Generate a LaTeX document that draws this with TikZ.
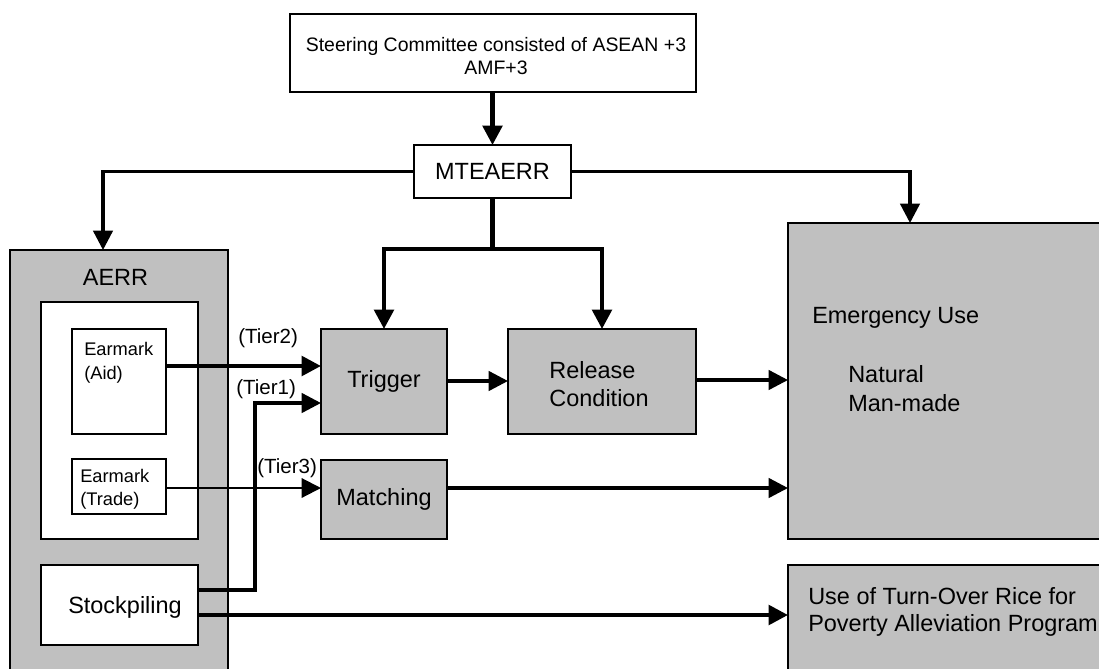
\documentclass[tikz,border=0pt]{standalone}
\usepackage{fontspec}
\setmainfont{Liberation Sans}
\usetikzlibrary{arrows.meta}

\definecolor{boxgray}{HTML}{C0C0C0}

\tikzset{
  box/.style={draw=black, line width=2.2pt, fill=white, inner sep=0pt, outer sep=0pt},
  graybox/.style={box, fill=boxgray},
  big/.style={font=\fontsize{17.6pt}{21.5pt}\selectfont},
  small/.style={font=\fontsize{13.7pt}{18pt}\selectfont},
  head/.style={font=\fontsize{14.6pt}{17pt}\selectfont},
  tier/.style={font=\fontsize{15.4pt}{18pt}\selectfont, inner sep=0pt, anchor=base west},
  lbl/.style={inner sep=0pt, anchor=base west},
  tip/.style={-{Triangle[length=14.5pt, width=14.5pt]}},
  arrT/.style={tip, line width=3.2pt},
  arrM/.style={tip, line width=2.5pt},
  arrS/.style={tip, line width=1.6pt},
  lineT/.style={line width=3.2pt},
}

\begin{document}
\begin{tikzpicture}[x=0.75pt, y=-0.75pt]
\path[use as bounding box, fill=white] (0,0) rectangle (1099,668);
\clip (0,0) rectangle (1099,668);

% ---- boxes (sizes in pt = px * 0.75) ----
\node[box, minimum width=304.5pt, minimum height=58.5pt] (steer) at (493,53) {};
\node[head, align=center, inner sep=0pt] at (496,56)
  {Steering Committee consisted of ASEAN +3\\AMF+3};

\node[box, minimum width=117.75pt, minimum height=39.75pt, big] (mte) at (492.5,171.5) {MTEAERR};

\node[graybox, minimum width=163.5pt, minimum height=337.5pt] (aerr) at (119,475) {};
\node[big, inner sep=0pt] at (115.5,277) {AERR};
\node[box, minimum width=117.75pt, minimum height=177.75pt] (ear) at (119.5,420.5) {};
\node[box, minimum width=70.5pt, minimum height=78.75pt] (aid) at (119,381.5) {};
\node[small, lbl] at (84,355) {Earmark};
\node[small, lbl] at (84,379) {(Aid)};
\node[box, minimum width=70.5pt, minimum height=41.25pt] (trade) at (119,486.5) {};
\node[small, lbl] at (80,482) {Earmark};
\node[small, lbl] at (80,505) {(Trade)};
\node[box, minimum width=117.75pt, minimum height=60pt] (stock) at (119.5,605) {};
\node[big, lbl] at (68,613) {Stockpiling};

\node[graybox, minimum width=94.5pt, minimum height=78.75pt, big] (trig) at (384,381.5) {Trigger};
\node[graybox, minimum width=141pt, minimum height=78.75pt] (rel) at (602,381.5) {};
\node[big, align=left, inner sep=0pt] at (599,384) {Release\\Condition};
\node[graybox, minimum width=94.5pt, minimum height=59.25pt, big] (match) at (384,499.5) {Matching};

\node[graybox, minimum width=234.75pt, minimum height=237pt] (emerg) at (944.5,381) {};
\node[big, lbl] at (812,323) {Emergency Use};
\node[big, lbl] at (848,382) {Natural};
\node[big, lbl] at (848,411) {Man-made};

\node[graybox, minimum width=234.75pt, minimum height=101.25pt] (turn) at (944.5,632.5) {};
\node[big, lbl] at (808,604) {Use of Turn-Over Rice for};
\node[big, lbl] at (808,631) {Poverty Alleviation Program};

% ---- connectors from the committee downwards ----
\draw[arrT] (mte.north |- steer.south) -- (mte.north);
\draw[arrM] (mte.west) -| (103,0 |- aerr.north);
\draw[arrM] (mte.east) -| (910,0 |- emerg.north);
\coordinate (split) at (mte.south |- 0,249);
\draw[lineT] (mte.south) -- (split);
\draw[arrT] (split) -| (trig.north);
\draw[arrT] (split) -| (rel.north);

% ---- tiers into trigger and matching ----
\draw[arrT] (aid.east |- 0,366) -- (trig.west |- 0,366);
\coordinate (bendA) at (255,590);
\coordinate (bendB) at (255,403);
\draw[arrM] (stock.east |- bendA) -- (bendA) -- (bendB) -- (trig.west |- bendB);
\draw[arrS] (trade.east |- 0,488) -- (match.west |- 0,488);
\node[tier] at (238,343) {(Tier2)};
\node[tier] at (236,394) {(Tier1)};
\node[tier] at (257,473) {(Tier3)};

% ---- flows to the uses ----
\draw[arrM] (trig.east |- 0,381) -- (rel.west |- 0,381);
\draw[arrM] (rel.east |- 0,380) -- (emerg.west |- 0,380);
\draw[arrM] (match.east |- 0,488) -- (emerg.west |- 0,488);
\draw[arrT] (stock.east |- 0,615) -- (turn.west |- 0,615);
\end{tikzpicture}
\end{document}
